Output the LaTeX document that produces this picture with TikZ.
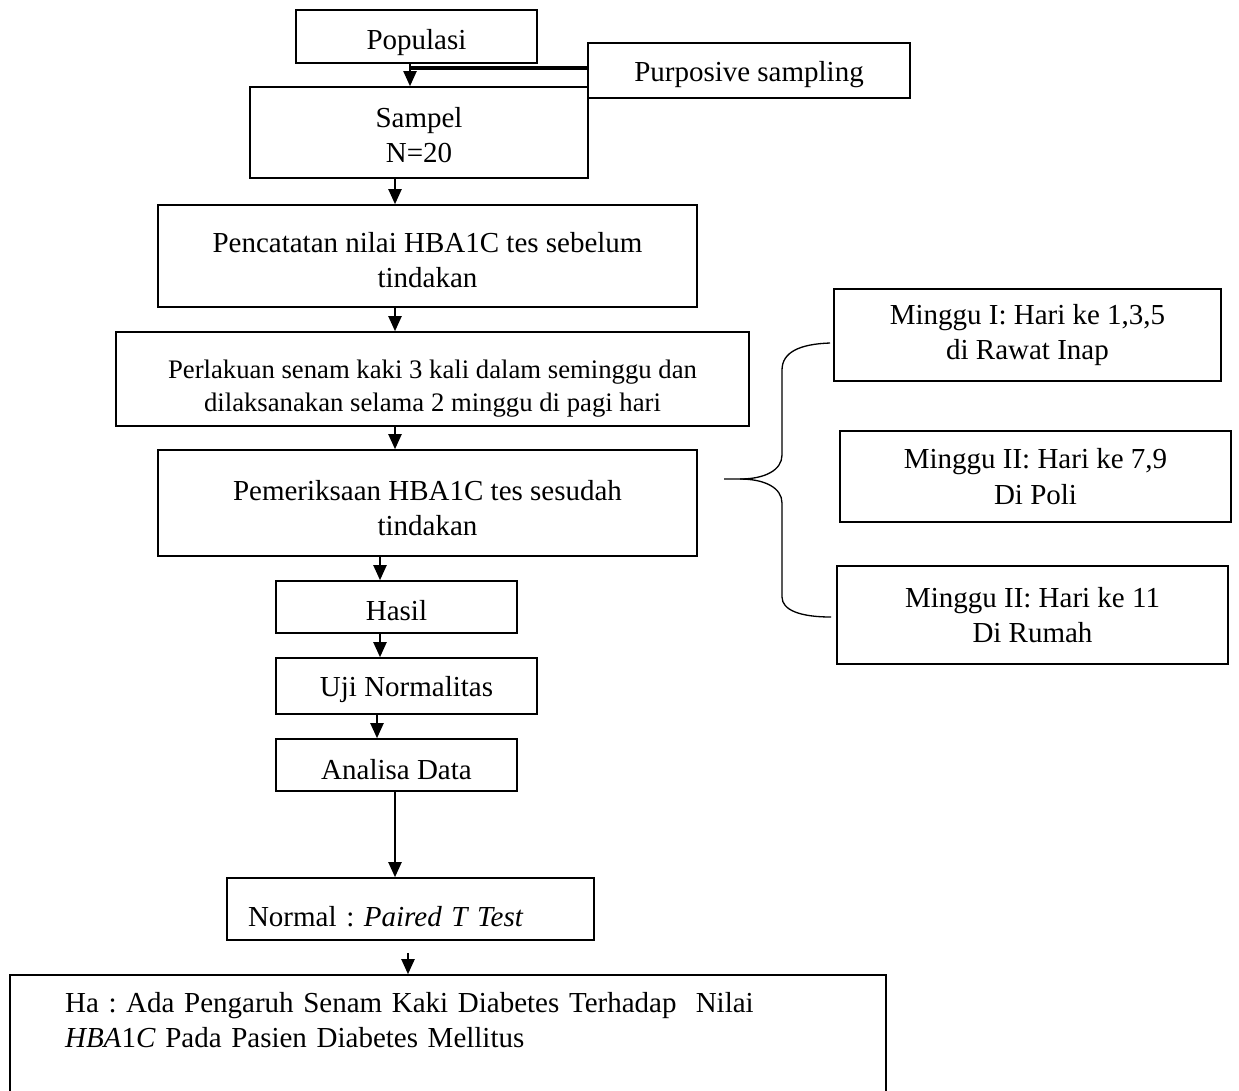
\documentclass[tikz,border=0pt]{standalone}
\usepackage{fontspec}
\setmainfont{Liberation Serif}
\usetikzlibrary{arrows.meta}
\newcommand{\tstrut}[1]{\rule{0pt}{#1}}
\frenchspacing

\begin{document}
\begin{tikzpicture}[x=0.02cm,y=-0.02cm,
	box/.style={draw,line width=1pt,inner sep=0pt,align=center,font=\fontsize{16.5}{20}\selectfont},
	flow/.style={line width=0.8pt,-{Triangle[length=8.5pt,width=7.5pt]}}]
	\useasboundingbox (0,0) rectangle (1239,1090);
	\clip (0,0) rectangle (1239,1090);
	\node[box,minimum width=4.82cm,minimum height=1.06cm] (pop) at (416.5,36.5) {\tstrut{18pt}Populasi};
	\node[box,minimum width=6.44cm,minimum height=1.10cm] (purp) at (749,70.5) {\tstrut{15.8pt}Purposive sampling};
	\node[box,minimum width=6.76cm,minimum height=1.82cm] (samp) at (419,132.5) {\tstrut{14.7pt}Sampel\\N=20};
	\node[box,minimum width=10.78cm,minimum height=2.04cm] (penc) at (427.5,256) {\tstrut{16.5pt}Pencatatan nilai HBA1C tes sebelum\\tindakan};
	\node[box,minimum width=12.66cm,minimum height=1.88cm,font=\fontsize{15.2}{18.8}\selectfont] (perl) at (432.5,379) {\tstrut{21.6pt}Perlakuan senam kaki 3 kali dalam seminggu dan\\dilaksanakan selama 2 minggu di pagi hari};
	\node[box,minimum width=10.78cm,minimum height=2.12cm] (pem) at (427.5,503) {\tstrut{17pt}Pemeriksaan HBA1C tes sesudah\\tindakan};
	\node[box,minimum width=4.82cm,minimum height=1.04cm] (hasil) at (396.5,607) {\tstrut{15.8pt}Hasil};
	\node[box,minimum width=5.22cm,minimum height=1.12cm] (uji) at (406.5,686) {\tstrut{15.8pt}Uji Normalitas};
	\node[box,minimum width=4.82cm,minimum height=1.04cm] (anal) at (396.5,765) {\tstrut{16.5pt}Analisa Data};
	\node[box,text width=6.5cm,inner xsep=0.42cm,align=left,minimum height=1.24cm] (norm) at (410.5,909) {\tstrut{20.4pt}Normal : \textit{Paired T Test}};
	\node[box,text width=15.32cm,inner xsep=1.1cm,align=left,minimum height=2.5cm] (ha) at (448,1037.5) {Ha : Ada Pengaruh Senam Kaki Diabetes Terhadap\ \ Nilai\\\textit{HBA}1\textit{C} Pada Pasien Diabetes Mellitus\\\mbox{}};
	\node[box,minimum width=7.74cm,minimum height=1.84cm] (m1) at (1027.5,335) {Minggu I: Hari ke 1,3,5\\di Rawat Inap};
	\node[box,minimum width=7.82cm,minimum height=1.82cm] (m2) at (1035.5,476.5) {Minggu II: Hari ke 7,9\\Di Poli};
	\node[box,minimum width=7.82cm,minimum height=1.96cm] (m3) at (1032.5,615) {Minggu II: Hari ke 11\\Di Rumah};

	\coordinate (a0) at (410,68);
	\coordinate (a1) at (395,0);
	\coordinate (a2) at (380,0);
	\coordinate (a3) at (377,0);
	\coordinate (a4) at (408,0);
	\draw[flow] (pop.south -| a0) -- (samp.north -| a0);
	\draw[line width=2.2pt] (purp.west |- a0) -- (a0);
	\draw[flow] (samp.south -| a1) -- (penc.north -| a1);
	\draw[flow] (penc.south -| a1) -- (perl.north -| a1);
	\draw[flow] (perl.south -| a1) -- (pem.north -| a1);
	\draw[flow] (pem.south -| a2) -- (hasil.north -| a2);
	\draw[flow] (hasil.south -| a2) -- (uji.north -| a2);
	\draw[flow] (uji.south -| a3) -- (anal.north -| a3);
	\draw[flow] (anal.south -| a1) -- (norm.north -| a1);
	\draw[flow,shorten <=0.24cm] (norm.south -| a4) -- (ha.north -| a4);

	\coordinate (btip) at (724,479);
	\draw[line width=0.75pt] (830,343) .. controls (800,344) and (782,352) .. (782,370) -- (782,455) .. controls (782,470) and (765,479) .. (740,479) -- (btip);
	\draw[line width=0.75pt] (740,479) .. controls (765,479) and (782,488) .. (782,503) -- (782,597) .. controls (782,610) and (800,617) .. (831,617);
\end{tikzpicture}
\end{document}
